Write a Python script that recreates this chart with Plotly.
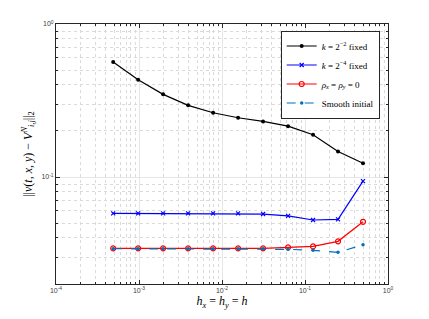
import plotly.graph_objects as go

h = [2**-11, 2**-10, 2**-9, 2**-8, 2**-7, 2**-6, 2**-5, 2**-4, 2**-3, 2**-2, 2**-1]
err_k2 = [0.565, 0.432, 0.347, 0.294, 0.263, 0.244, 0.231, 0.215, 0.189, 0.147, 0.123]
err_k4 = [0.0579, 0.0579, 0.0579, 0.0579, 0.0579, 0.0579, 0.0573, 0.0558, 0.0524, 0.0529, 0.094]
err_rho = [0.0342, 0.0342, 0.0342, 0.0342, 0.0342, 0.0342, 0.0342, 0.0347, 0.0352, 0.038, 0.051]
err_smooth = [0.034, 0.034, 0.034, 0.034, 0.034, 0.034, 0.034, 0.0337, 0.0332, 0.0322, 0.0361]

xtick_vals = [1e-4, 1e-3, 1e-2, 1e-1, 1]
xtick_text = ["10<sup>-4</sup>", "10<sup>-3</sup>", "10<sup>-2</sup>", "10<sup>-1</sup>", "10<sup>0</sup>"]
ytick_vals = [1e-1, 1]
ytick_text = ["10<sup>-1</sup>", "10<sup>0</sup>"]

x_minor = [m * d for d in [1e-4, 1e-3, 1e-2, 1e-1] for m in range(2, 10)]
y_minor = [m * d for d in [1e-2, 1e-1] for m in range(2, 10)]

names = [
    "<i>k</i> = 2<sup>−2</sup> fixed",
    "<i>k</i> = 2<sup>−4</sup> fixed",
    "<i>ρ<sub>x</sub></i> = <i>ρ<sub>y</sub></i> = 0",
    "Smooth initial",
]

fig = go.Figure()
fig.add_trace(go.Scatter(x=h, y=err_k2, name=names[0], mode="lines+markers",
                         line=dict(color="black", width=1.2),
                         marker=dict(symbol="circle", size=4, color="black")))
fig.add_trace(go.Scatter(x=h, y=err_k4, name=names[1], mode="lines+markers",
                         line=dict(color="#0000FF", width=1.2),
                         marker=dict(symbol="x-thin", size=4, line=dict(color="#0000FF", width=1.2))))
fig.add_trace(go.Scatter(x=h, y=err_rho, name=names[2], mode="lines+markers",
                         line=dict(color="#FF0000", width=1.2),
                         marker=dict(symbol="circle-open", size=5, line=dict(color="#FF0000", width=1.2))))
fig.add_trace(go.Scatter(x=h, y=err_smooth, name=names[3], mode="lines+markers",
                         line=dict(color="#0072BD", width=1.2, dash="dash"),
                         marker=dict(symbol="circle", size=3.5, color="#0072BD")))

def axis_common(minor_vals):
    return dict(
        type="log", showline=True, linecolor="#262626", linewidth=1, mirror="ticks",
        ticks="inside", ticklen=4, tickcolor="#262626",
        showgrid=True, gridcolor="#E6E6E6", gridwidth=1,
        zeroline=False,
        tickfont=dict(family="Liberation Sans, Arial", size=7, color="#404040"),
        minor=dict(tickvals=minor_vals, ticks="inside", ticklen=2, tickcolor="#262626",
                   showgrid=True, gridcolor="#DADADA", griddash="dot", gridwidth=1),
    )

fig.update_xaxes(range=[-4, 0], tickvals=xtick_vals, ticktext=xtick_text,
                 title=dict(text="<i>h<sub>x</sub></i> = <i>h<sub>y</sub></i> = <i>h</i>",
                            font=dict(family="Liberation Serif, Times New Roman", size=12, color="black"),
                            standoff=3),
                 **axis_common(x_minor))
fig.update_yaxes(range=[-1.699, 0], tickvals=ytick_vals, ticktext=ytick_text,
                 title=dict(text="||<i>v</i>(<i>t</i>, <i>x</i>, <i>y</i>) − <i>V</i><sup><i>N</i></sup><sub><i>i,j</i></sub>||<sub>2</sub>",
                            font=dict(family="Liberation Serif, Times New Roman", size=12, color="black"),
                            standoff=6),
                 **axis_common(y_minor))

fig.update_layout(
    width=429, height=319,
    margin=dict(l=56, r=41, t=24, b=35),
    paper_bgcolor="white", plot_bgcolor="white",
    showlegend=True,
    legend=dict(x=0.975, y=0.975, xanchor="right", yanchor="top",
                bgcolor="white", bordercolor="#262626", borderwidth=1,
                font=dict(family="Liberation Serif, Times New Roman", size=9, color="black"),
                tracegroupgap=0, itemwidth=30),
)

fig.write_html("out.html", config={"displayModeBar": False},
               post_script="document.body.style.margin='0px';document.body.style.overflow='hidden';")
